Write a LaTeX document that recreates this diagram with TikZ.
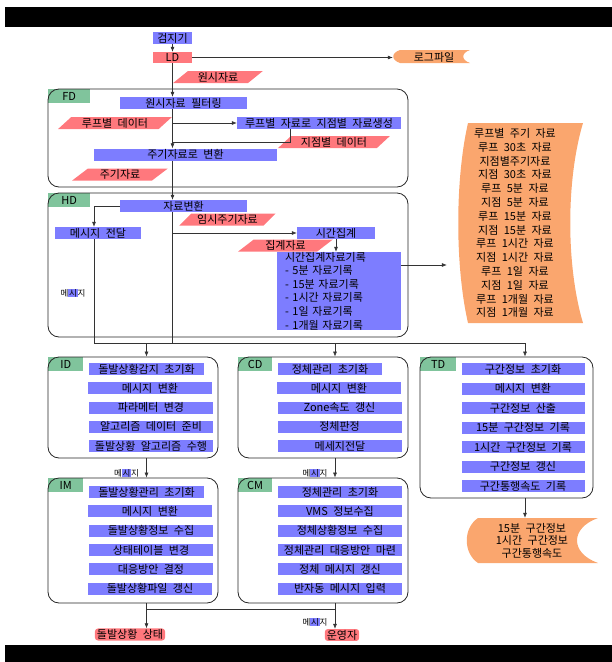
\documentclass[tikz,border=0pt]{standalone}
\usepackage{fontspec}
\setmainfont[WordSpace=2.2]{Noto Sans CJK KR}
\usetikzlibrary{shapes.geometric,arrows.meta}
\definecolor{procblue}{RGB}{125,125,255}
\definecolor{datared}{RGB}{255,120,125}
\definecolor{tabgreen}{RGB}{128,196,156}
\definecolor{storeorange}{RGB}{250,166,110}
\newcommand\boxfont{\fontsize{11}{13.6}\selectfont}
\newcommand\smallfont{\fontsize{8.5}{10}\selectfont}
\newcommand\hlsi{{\setlength\fboxsep{0.6pt}\colorbox{procblue}{시}}}
\begin{document}
\begin{tikzpicture}[x=1pt,y=-1pt,font=\boxfont,
  proc/.style={fill=procblue,inner sep=0pt,minimum height=12pt},
  data/.style={trapezium,trapezium left angle=45,trapezium right angle=135,trapezium stretches=true,fill=datared,inner sep=0pt,minimum height=12pt},
  module/.style={draw=black!85,line width=0.8pt,rounded corners=11pt},
  tab/.style={fill=tabgreen,anchor=north west,inner sep=0pt,minimum height=14pt},
  line/.style={draw=black!80,line width=0.6pt},
  flow/.style={line,-{Latex[length=5pt,width=4pt]}},
  term/.style={fill=datared,rounded corners=3pt,inner xsep=2pt,inner ysep=1pt},
  note/.style={font=\smallfont,inner sep=0pt}]
\useasboundingbox (0,0) rectangle (612,662);
\fill[black] (5,7) rectangle (612,27);
\fill[black] (5,645) rectangle (612,662);

\coordinate (sp) at (172.5,0);
\coordinate (back) at (0,142);
\coordinate (bus) at (0,343);
\coordinate (join) at (0,609);
\coordinate (idx) at (146.5,0);
\coordinate (cdx) at (335,0);
\coordinate (tdx) at (525,0);

\node[proc,minimum width=39pt] (det) at (172.5,38) {검지기};
\node[fill=datared,inner sep=0pt,minimum width=39pt,minimum height=11pt] (ld) at (172.5,57.5) {LD};
\fill[storeorange] (400,50) -- (470,50) .. controls (461,53) and (461,60) .. (470,63) -- (400,63) .. controls (391,60) and (391,53) .. (400,50) -- cycle;
\node[inner sep=0pt,minimum width=77pt,minimum height=13pt] (log) at (431.5,57.5) {\hspace*{5pt}로그파일};
\node[data,minimum width=90pt] (raw) at (218,77) {원시자료};

\node[tab,minimum width=42pt] (fdtab) at (48,89) {FD};
\node[module,minimum width=360pt,minimum height=98pt] (fd) at (228,138) {};
\node[proc,minimum width=127pt] (filt) at (183.5,103) {원시자료 필터링};
\node[data,minimum width=114pt] (loopd) at (115,123) {루프별 데이터};
\node[proc,minimum width=164pt] (gen) at (319,123) {루프별 자료로 지점별 자료생성};
\node[data,minimum width=112pt] (stad) at (334,142) {지점별 데이터};
\node[proc,minimum width=183pt] (conv) at (185.5,154.5) {주기자료로 변환};
\node[data,minimum width=96pt] (perd) at (120,174.5) {주기자료};

\node[tab,minimum width=42pt] (hdtab) at (48,193) {HD};
\node[module,minimum width=360pt,minimum height=144pt] (hd) at (228,265) {};
\node[proc,minimum width=127pt] (xform) at (183.5,206) {자료변환};
\node[proc,minimum width=86pt] (msg) at (98,233) {메시지 전달};
\node[data,minimum width=97pt] (tmpd) at (227.5,219.5) {임시주기자료};
\node[proc,minimum width=78pt] (agg) at (336,233) {시간집계};
\node[data,minimum width=95pt] (aggd) at (285.5,245.5) {집계자료};
\node[proc,minimum height=78pt,text width=108pt,inner xsep=8pt,inner ysep=0pt,align=left] (rec) at (339,291)
  {시간집계자료기록\\- 5분 자료기록\\- 15분 자료기록\\- 1시간 자료기록\\- 1일 자료기록\\- 1개월 자료기록};
\node[note] (hdmsg) at (73,293) {메\hlsi 지};

\fill[storeorange] (468,123) -- (583,123) .. controls (566,180) and (566,266) .. (583,323) -- (468,323) .. controls (455,266) and (455,180) .. (468,123) -- cycle;
\node[align=center,minimum width=136pt,inner sep=0pt,font=\fontsize{11}{13.8}\selectfont] (lst) at (515,223)
  {루프별 주기 자료\\루프 30초 자료\\지점별주기자료\\지점 30초 자료\\루프 5분 자료\\지점 5분 자료\\루프 15분 자료\\지점 15분 자료\\루프 1시간 자료\\지점 1시간 자료\\루프 1일 자료\\지점 1일 자료\\루프 1개월 자료\\지점 1개월 자료};

\node[tab,minimum width=35pt] (idtab) at (48,357) {ID};
\node[module,minimum width=170pt,minimum height=101pt] (id) at (133,407.5) {};
\foreach \t/\w/\cx [count=\i] in {돌발상황감지 초기화/115/146.5,메시지 변환/124/150,파라메터 변경/124/151,알고리즘 데이터 준비/124/151,돌발상황 알고리즘 수행/124/151}
  \node[proc,minimum width=\w pt] (id\i) at (\cx,369+19.25*\i-19.25) {\t};

\node[tab,minimum width=34pt] (cdtab) at (238,357) {CD};
\node[module,minimum width=170pt,minimum height=101pt] (cd) at (323,407.5) {};
\foreach \t/\w/\cx [count=\i] in {정체관리 초기화/104/330,메시지 변환/124/339,Zone속도 갱신/124/339.5,정체판정/124/339.5,메세지전달/124/340}
  \node[proc,minimum width=\w pt] (cd\i) at (\cx,369+19.25*\i-19.25) {\t};

\node[tab,minimum width=36pt] (tdtab) at (420,357) {TD};
\node[module,minimum width=173pt,minimum height=141pt] (td) at (506.5,427.5) {};
\foreach \t [count=\i] in {구간정보 초기화,메시지 변환,구간정보 산출,15분 구간정보 기록,1시간 구간정보 기록,구간정보 갱신,구간통행속도 기록}
  \node[proc,minimum width=123pt] (td\i) at (523,369+19.5*\i-19.5) {\t};
\fill[storeorange] (478,518) -- (598,518) .. controls (570,528) and (570,553) .. (598,563) -- (478,563) .. controls (463,553) and (463,528) .. (478,518) -- cycle;
\node[align=center,inner sep=0pt,minimum height=45pt,font=\fontsize{11}{12.5}\selectfont] (tdout) at (532,540.5) {15분 구간정보\\1시간 구간정보\\구간통행속도};

\node[tab,minimum width=35pt] (imtab) at (48,478) {IM};
\node[module,minimum width=170pt,minimum height=125pt] (im) at (133,540.5) {};
\foreach \t/\w/\cx [count=\i] in {돌발상황관리 초기화/115/146.5,메시지 변환/124/150,돌발상황정보 수집/124/151,상태테이블 변경/124/151,대응방안 결정/124/151,돌발상황파일 갱신/124/150}
  \node[proc,minimum width=\w pt] (im\i) at (\cx,492+19.3*\i-19.3) {\t};

\node[tab,minimum width=34pt] (cmtab) at (238,478) {CM};
\node[module,minimum width=170pt,minimum height=125pt] (cm) at (323,540.5) {};
\foreach \t [count=\i] in {정체관리 초기화,VMS 정보수집,정체상황정보 수집,정체관리 대응방안 마련,정체 메시지 갱신,반자동 메시지 입력}
  \node[proc,minimum width=124pt] (cm\i) at (340,492+19.3*\i-19.3) {\t};

\node[note] (m1) at (126.5,473) {메\hlsi 지};
\node[note] (m2) at (315,473) {메\hlsi 지};
\node[note] (m3) at (315,622) {메\hlsi 지};
\node[term] (inc) at (130,634.5) {돌발상황 상태};
\node[term] (oper) at (342,635) {운영자};

\coordinate (recout) at ([yshift=26pt]rec.east);
\draw[flow] (det) -- (ld);
\draw[flow] (ld.east) -- (ld.east -| log.west);
\draw[flow] (ld) -- (sp |- filt.north);
\draw[flow] (sp |- filt.south) -- (sp |- conv.north);
\draw[flow] (sp |- gen) -- (gen.west);
\draw[line] ([xshift=-29pt]gen.south) |- (sp |- back);
\draw[flow] (sp |- conv.south) -- (sp |- xform.north);
\draw[flow] (xform.west) -| ([xshift=-4pt]msg.north);
\draw[flow] (sp |- agg) -- (agg.west);
\draw[flow] (agg) -- (agg |- rec.north);
\draw[flow] (recout) -- (recout -| lst.west);
\draw[line] (sp |- xform.south) -- (sp |- bus);
\draw[line] ([xshift=-4pt]msg.south) |- (tdx |- bus);
\draw[flow] (idx |- bus) -- (idx |- id.north);
\draw[flow] (cdx |- bus) -- (cdx |- cd.north);
\draw[flow] (tdx |- bus) -- (tdx |- td.north);
\draw[flow] (idx |- id.south) -- (idx |- im.north);
\draw[flow] (cdx |- cd.south) -- (cdx |- cm.north);
\draw[flow] (tdx |- td.south) -- (tdx |- tdout.north);
\draw[flow] (idx |- im.south) -- (idx |- inc.north);
\draw[flow] (cdx |- cm.south) -- (cdx |- oper.north);
\draw[line] (idx |- join) -- (cdx |- join);
\end{tikzpicture}
\end{document}
